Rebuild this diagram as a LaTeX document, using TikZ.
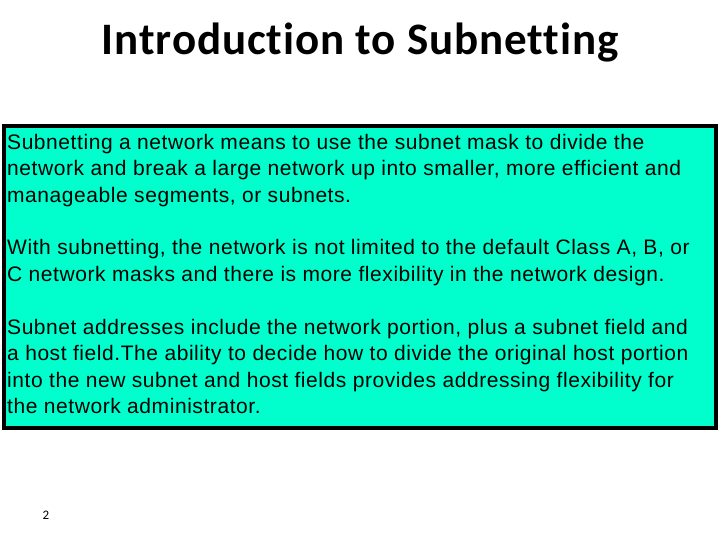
\documentclass[tikz,border=0pt]{standalone}
\usepackage{fontspec}
\setmainfont{Liberation Sans}[LetterSpace=2.7]
\newfontfamily\titlefont{Carlito}[Ligatures=NoCommon,LetterSpace=2]
\newfontfamily\pgfont{Carlito}
\definecolor{boxfill}{HTML}{00FFCC}
\begin{document}
\begin{tikzpicture}[x=1pt,y=1pt,
  ln/.style={anchor=base west,inner sep=0pt,font=\fontsize{21}{24}\selectfont}]
\useasboundingbox (0,0) rectangle (720,540);
\node[font=\titlefont\bfseries\fontsize{45}{52}\selectfont] (title) at (360,497) {Introduction to Subnetting};
\node[draw=black,line width=4pt,fill=boxfill,minimum width=712pt,minimum height=302pt,inner sep=0pt] (box) at (360,263) {};
\node[ln] (l1) at (7,390) {Subnetting a network means to use the subnet mask to divide the};
\node[ln] (l2) at (7,364) {network and break a large network up into smaller, more efficient and};
\node[ln] (l3) at (7,337) {manageable segments, or subnets.};
\node[ln] (l4) at (7,285) {With subnetting, the network is not limited to the default Class A, B, or};
\node[ln] (l5) at (7,258) {C network masks and there is more flexibility in the network design.};
\node[ln] (l6) at (7,205) {Subnet addresses include the network portion, plus a subnet field and};
\node[ln] (l7) at (7,179) {a host field.The ability to decide how to divide the original host portion};
\node[ln] (l8) at (7,152) {into the new subnet and host fields provides addressing flexibility for};
\node[ln] (l9) at (7,126) {the network administrator.};
\node[font=\pgfont\fontsize{13}{15}\selectfont] (pg) at (46,25) {2};
\end{tikzpicture}
\end{document}
